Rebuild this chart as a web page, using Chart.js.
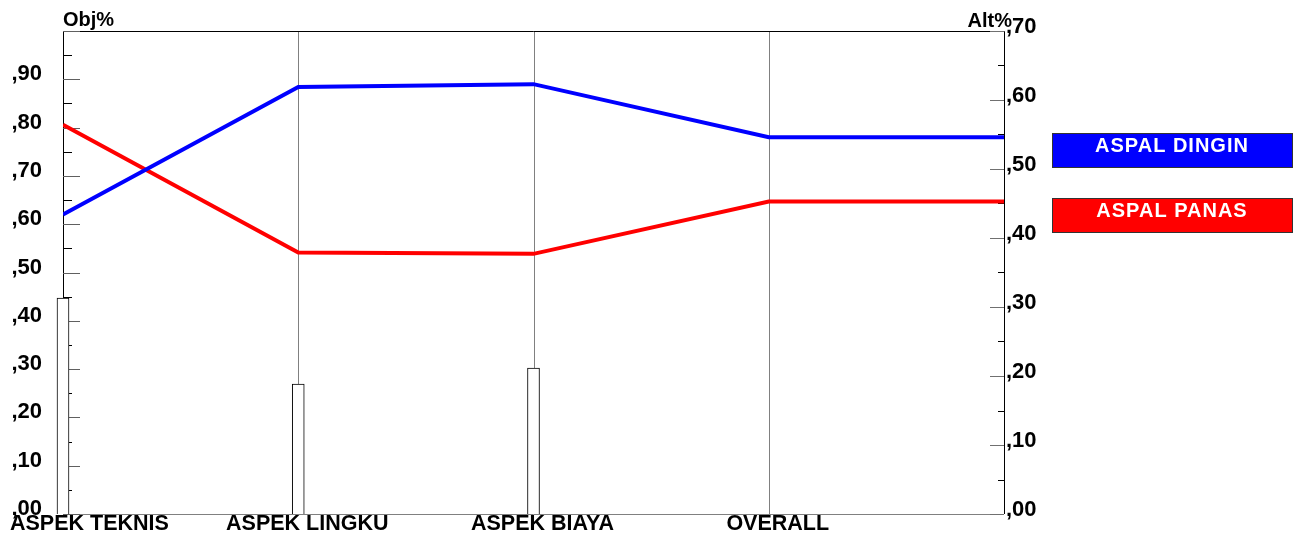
<!DOCTYPE html>
<html>
<head>
<meta charset="utf-8">
<script src="https://cdn.jsdelivr.net/npm/chart.js@4"></script>
<style>
  body { margin: 0; background: #fff; }
</style>
</head>
<body>
<canvas id="canvas" width="1300" height="538"></canvas>
<script>
var categories = ['ASPEK TEKNIS', 'ASPEK LINGKU', 'ASPEK BIAYA', 'OVERALL'];
var objWeights = [0.447, 0.269, 0.302];          // Obj% bars
var aspalDingin = [0.434, 0.619, 0.623, 0.546];  // Alt%
var aspalPanas = [0.564, 0.379, 0.377, 0.453];   // Alt%
var seriesNames = ['ASPAL DINGIN', 'ASPAL PANAS'];
var seriesColors = ['#0000ff', '#ff0000'];
var objMax = 1.0, altMax = 0.7;

var FONT = '"Liberation Sans", Arial, sans-serif';

function pct(v) {
    var n = Math.round(v * 100);
    return ',' + (n < 10 ? '0' + n : n);
}

// points for the lines, last value carried to the right edge
function linePoints(vals) {
    var pts = vals.map(function (v, i) { return { x: i, y: v }; });
    pts.push({ x: vals.length, y: vals[vals.length - 1] });
    return pts;
}

var decor = {
    id: 'decor',
    beforeDatasetsDraw: function (chart) {
        var ctx = chart.ctx, a = chart.chartArea;
        var xs = chart.scales.x, yL = chart.scales.yL, yR = chart.scales.yR;
        ctx.save();
        ctx.lineWidth = 1;
        // category lines
        ctx.strokeStyle = '#808080';
        for (var i = 1; i < categories.length; i++) {
            var px = Math.round(xs.getPixelForValue(i)) + 0.5;
            ctx.beginPath(); ctx.moveTo(px, a.top); ctx.lineTo(px, a.bottom); ctx.stroke();
        }
        ctx.beginPath(); ctx.moveTo(a.left, a.bottom + 0.5); ctx.lineTo(a.right, a.bottom + 0.5); ctx.stroke();
        // frame
        ctx.strokeStyle = '#000';
        ctx.beginPath();
        ctx.moveTo(a.left, a.top + 0.5); ctx.lineTo(a.right + 0.5, a.top + 0.5); ctx.lineTo(a.right + 0.5, a.bottom);
        ctx.stroke();
        // ticks
        for (var k = 0; k <= 20; k++) {
            var v = k * 0.05;
            var major = k % 2 === 0;
            var py = Math.round(yL.getPixelForValue(v)) + 0.5;
            ctx.strokeStyle = major ? '#606060' : '#000';
            ctx.beginPath(); ctx.moveTo(a.left, py); ctx.lineTo(a.left + (major ? 17 : 9), py); ctx.stroke();
        }
        for (var m = 0; m <= 14; m++) {
            var w = m * 0.05;
            var maj = m % 2 === 0;
            var qy = Math.round(yR.getPixelForValue(w)) + 0.5;
            ctx.strokeStyle = maj ? '#707070' : '#000';
            ctx.beginPath(); ctx.moveTo(a.right - (maj ? 14 : 6), qy); ctx.lineTo(a.right, qy); ctx.stroke();
        }
        ctx.restore();
    },
    afterDraw: function (chart) {
        var ctx = chart.ctx, a = chart.chartArea, xs = chart.scales.x;
        ctx.save();
        ctx.fillStyle = '#000';
        ctx.font = 'bold 21.5px ' + FONT;
        ctx.textBaseline = 'alphabetic';
        ctx.textAlign = 'left';
        categories.forEach(function (c, i) {
            var cx = xs.getPixelForValue(i) + 9;
            var tw = ctx.measureText(c).width;
            var lx = Math.max(10, cx - tw / 2);
            ctx.fillText(c, lx, 530);
        });
        // axis titles
        ctx.font = 'bold 20px ' + FONT;
        ctx.fillText('Obj%', a.left, 26);
        ctx.textAlign = 'right';
        ctx.fillText('Alt%', a.right + 8, 27);
        // legend boxes
        seriesNames.forEach(function (name, i) {
            var bx = 1052, by = 133 + i * 65, bw = 240, bh = 34;
            ctx.fillStyle = seriesColors[i];
            ctx.fillRect(bx, by, bw, bh);
            ctx.strokeStyle = '#333';
            ctx.lineWidth = 1;
            ctx.strokeRect(bx + 0.5, by + 0.5, bw, bh);
            ctx.fillStyle = '#fff';
            ctx.font = 'bold 20px ' + FONT;
            ctx.letterSpacing = '1px';
            ctx.textAlign = 'center';
            ctx.fillText(name, bx + bw / 2, by + 19);
            ctx.letterSpacing = '0px';
        });
        ctx.restore();
    }
};

function fitWidth(w) {
    return function (s) {
        s.width = w;
        s.paddingTop = 0;
        s.paddingBottom = 0;
    };
}

var ctx = document.getElementById('canvas').getContext('2d');
var myChart = new Chart(ctx, {
    type: 'line',
    data: {
        datasets: [
            {
                type: 'line',
                label: seriesNames[0],
                data: linePoints(aspalDingin),
                borderColor: seriesColors[0],
                borderWidth: 4,
                pointRadius: 0,
                tension: 0,
                yAxisID: 'yR',
                order: 1
            },
            {
                type: 'line',
                label: seriesNames[1],
                data: linePoints(aspalPanas),
                borderColor: seriesColors[1],
                borderWidth: 4,
                pointRadius: 0,
                tension: 0,
                yAxisID: 'yR',
                order: 1
            },
            {
                type: 'bar',
                label: 'Obj',
                data: objWeights.map(function (v, i) { return { x: i, y: v }; }),
                backgroundColor: '#fff',
                borderColor: '#000',
                borderWidth: 1,
                barThickness: 12,
                yAxisID: 'yL',
                clip: false,
                order: 2
            }
        ]
    },
    options: {
        responsive: false,
        animation: false,
        layout: { padding: { top: 31, bottom: 24, left: 0, right: 0 } },
        plugins: { legend: { display: false }, tooltip: { enabled: false } },
        scales: {
            x: {
                type: 'linear',
                min: 0,
                max: categories.length,
                offset: false,
                display: false
            },
            yL: {
                position: 'left',
                min: 0,
                max: objMax,
                afterFit: fitWidth(63),
                grid: { display: false, drawTicks: false },
                border: { display: true, color: '#000', width: 1 },
                ticks: {
                    stepSize: 0.1,
                    padding: 21,
                    labelOffset: -5,
                    color: '#000',
                    font: { family: FONT, size: 22, weight: 'bold' },
                    callback: function (v) { return v > objMax - 0.05 ? '' : pct(v); }
                }
            },
            yR: {
                position: 'right',
                min: 0,
                max: altMax,
                afterFit: fitWidth(296),
                grid: { display: false, drawTicks: false },
                border: { display: false },
                ticks: {
                    stepSize: 0.1,
                    padding: 2,
                    labelOffset: -4,
                    color: '#000',
                    font: { family: FONT, size: 22, weight: 'bold' },
                    callback: function (v) { return pct(v); }
                }
            }
        }
    },
    plugins: [decor]
});
</script>
</body>
</html>
